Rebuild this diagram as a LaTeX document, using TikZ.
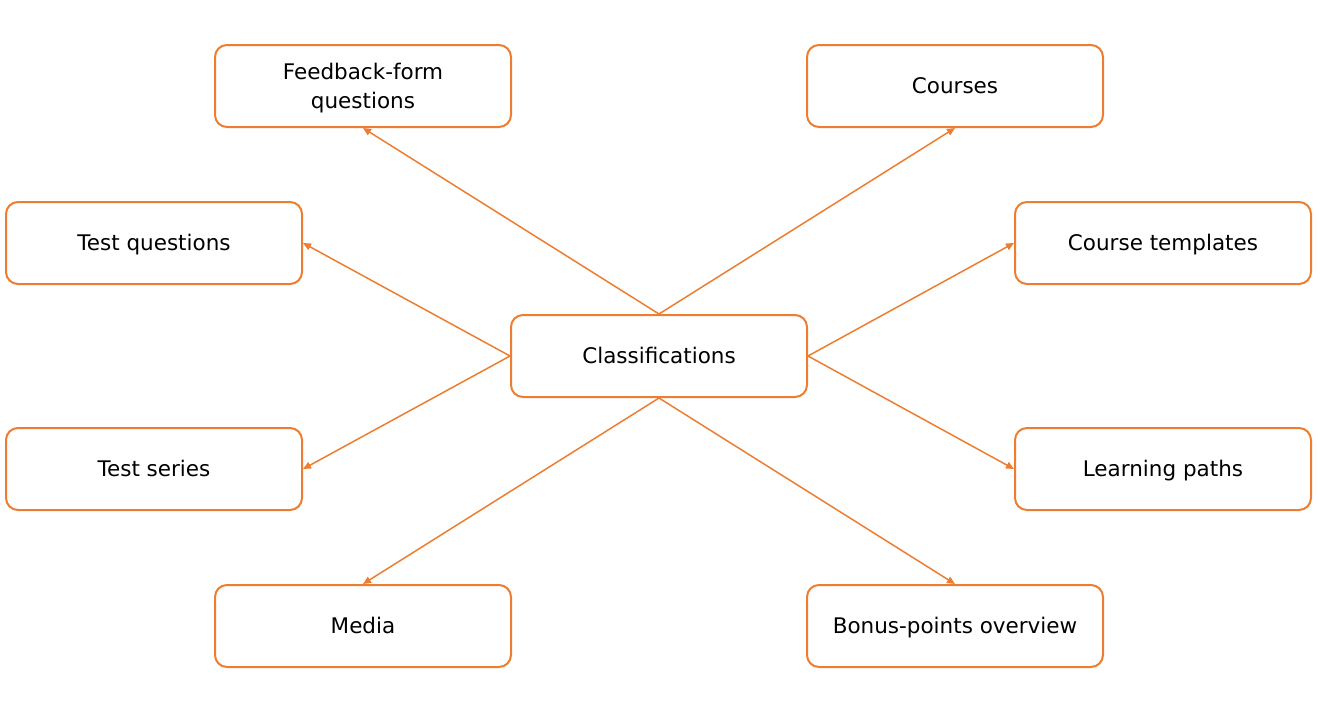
\documentclass[tikz,border=0pt]{standalone}
\usepackage{fontspec}
\setmainfont{DejaVu Sans}
\usetikzlibrary{arrows.meta}
\definecolor{org}{HTML}{ED7D31}
\tikzset{
  box/.style={draw=org, line width=2pt, rounded corners=12pt, minimum width=296pt, minimum height=82pt, inner sep=0pt, fill=white},
  lbl/.style={align=center, font=\fontsize{21.5}{29.5}\selectfont, inner sep=0pt, anchor=base},
  conn/.style={draw=org, line width=1.5pt, -{Triangle[length=8pt,width=7pt]}}
}
\begin{document}
\begin{tikzpicture}[x=1pt,y=-1pt]
\useasboundingbox (0,0) rectangle (1317,720);
\node[box] (c) at (659,356) {};
\node[box] (fb) at (363,86) {};
\node[box] (co) at (955,86) {};
\node[box] (tq) at (154,243) {};
\node[box] (ct) at (1163,243) {};
\node[box] (ts) at (154,469) {};
\node[box] (lp) at (1163,469) {};
\node[box] (me) at (363,626) {};
\node[box] (bo) at (955,626) {};
\node[lbl] (cT) at ([yshift=-7.5pt]c.center) {Classifications};
\node[lbl] (fbT) at ([yshift=7pt]fb.center) {Feedback-form};
\node[lbl] (fbT2) at ([yshift=-22pt]fb.center) {questions};
\node[lbl] (coT) at ([yshift=-7.5pt]co.center) {Courses};
\node[lbl] (tqT) at ([yshift=-7.5pt]tq.center) {Test questions};
\node[lbl] (ctT) at ([yshift=-7.5pt]ct.center) {Course templates};
\node[lbl] (tsT) at ([yshift=-7.5pt]ts.center) {Test series};
\node[lbl] (lpT) at ([yshift=-7.5pt]lp.center) {Learning paths};
\node[lbl] (meT) at ([yshift=-7.5pt]me.center) {Media};
\node[lbl] (boT) at ([yshift=-7.5pt]bo.center) {Bonus-points overview};
\draw[conn] (c.north) -- (fb.south);
\draw[conn] (c.north) -- (co.south);
\draw[conn] (c.west) -- (tq.east);
\draw[conn] (c.west) -- (ts.east);
\draw[conn] (c.east) -- (ct.west);
\draw[conn] (c.east) -- (lp.west);
\draw[conn] (c.south) -- (me.north);
\draw[conn] (c.south) -- (bo.north);
\end{tikzpicture}
\end{document}
